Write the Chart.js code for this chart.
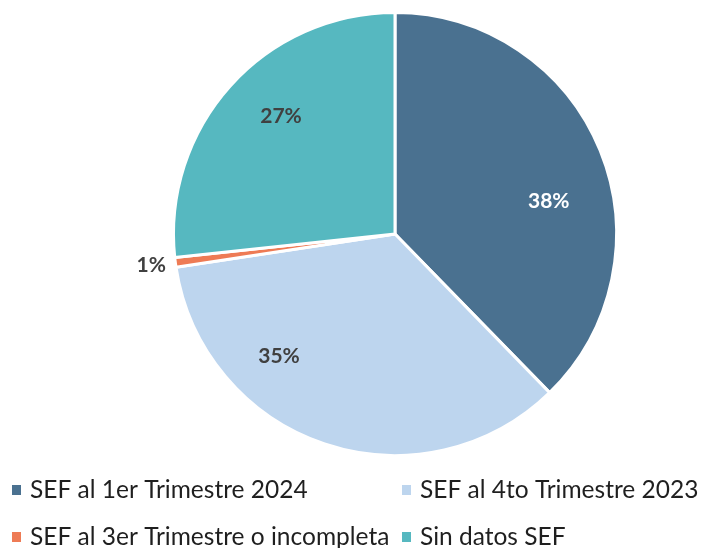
<!DOCTYPE html>
<html>
<head>
<meta charset="utf-8">
<script src="https://cdn.jsdelivr.net/npm/chart.js@4.4.1/dist/chart.umd.min.js"></script>
<style>
  body { margin: 0; background: #fff; }
</style>
</head>
<body>
<canvas id="chart_1" width="702" height="548"></canvas>
<script>
const labels = ['SEF al 1er Trimestre 2024', 'SEF al 4to Trimestre 2023', 'SEF al 3er Trimestre o incompleta', 'Sin datos SEF'];
const values = [37.7, 34.9, 0.7, 26.7];
const colors = ['#4A7190', '#BDD5EE', '#EE7B55', '#56B8C0'];

// where each % label sits (fraction of radius, shift in degrees from mid angle)
const labelRadius = [0.71, 0.76, 1.11, 0.74];
const labelShift = [10, 25, 0, 4];
const labelColors = ['#FFFFFF', '#404040', '#404040', '#404040'];

const pctLabels = {
  id: 'pctLabels',
  afterDatasetsDraw(chart) {
    const { ctx } = chart;
    const meta = chart.getDatasetMeta(0);
    const total = values.reduce((a, b) => a + b, 0);
    ctx.save();
    ctx.font = 'bold 21px Lato';
    ctx.textAlign = 'center';
    ctx.textBaseline = 'middle';
    meta.data.forEach((arc, i) => {
      const p = arc.getProps(['x', 'y', 'startAngle', 'endAngle', 'outerRadius'], true);
      const a = (p.startAngle + p.endAngle) / 2 + labelShift[i] * Math.PI / 180;
      const r = p.outerRadius * labelRadius[i];
      ctx.fillStyle = labelColors[i];
      ctx.fillText(Math.round(values[i] / total * 100) + '%', p.x + Math.cos(a) * r, p.y + Math.sin(a) * r);
    });
    ctx.restore();
  }
};

const gridLegend = {
  id: 'gridLegend',
  afterDraw(chart) {
    const { ctx } = chart;
    const colX = [12, 402];
    const rowY = [490, 537];
    ctx.save();
    ctx.font = '24.5px Lato';
    ctx.textBaseline = 'middle';
    labels.forEach((lab, i) => {
      const x = colX[i % 2];
      const y = rowY[Math.floor(i / 2)];
      ctx.fillStyle = colors[i];
      ctx.fillRect(x, y - 5, 9, 10);
      ctx.fillStyle = '#1F1F1F';
      ctx.fillText(lab, x + 18, y);
    });
    ctx.restore();
  }
};

const config = {
  type: 'pie',
  data: {
    labels,
    datasets: [{
      data: values,
      backgroundColor: colors,
      borderColor: '#FFFFFF',
      borderWidth: 3
    }]
  },
  options: {
    responsive: false,
    animation: false,
    layout: { padding: { top: 11, bottom: 91, left: 88, right: 0 } },
    plugins: {
      legend: { display: false },
      tooltip: { enabled: false }
    }
  },
  plugins: [pctLabels, gridLegend]
};

const chart_1 = new Chart(document.getElementById('chart_1'), config);
</script>
</body>
</html>
